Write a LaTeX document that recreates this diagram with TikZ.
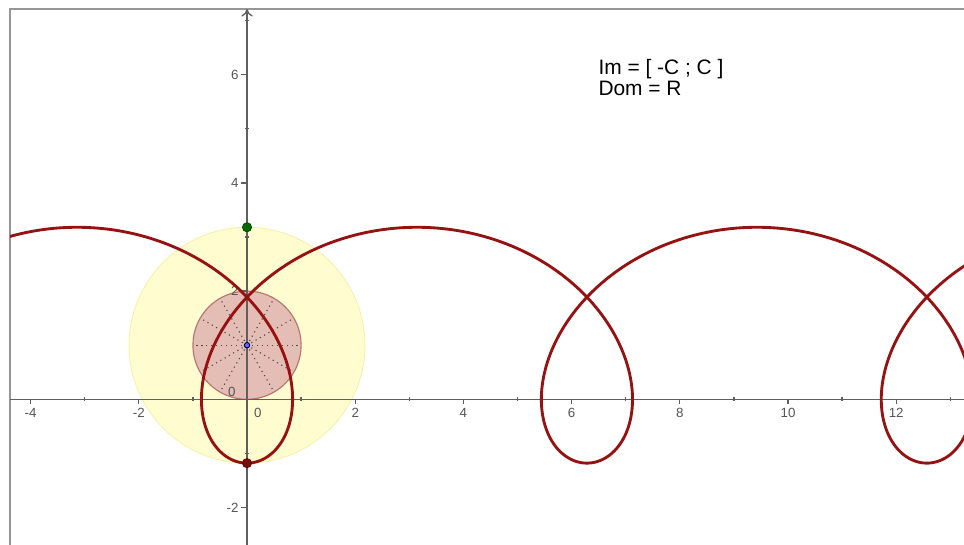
\documentclass[tikz,border=0pt]{standalone}
\usepackage{fontspec}
\setmainfont{Liberation Sans}
\usetikzlibrary{arrows.meta}
\definecolor{curvered}{RGB}{150,18,18}
\definecolor{paleyellow}{RGB}{255,253,208}
\definecolor{rimyellow}{RGB}{245,240,160}
\definecolor{pinkfill}{RGB}{228,190,180}
\definecolor{pinkrim}{RGB}{185,115,115}
\definecolor{axisgray}{RGB}{95,95,95}
\definecolor{framegray}{RGB}{150,150,150}
\definecolor{labelgray}{RGB}{85,85,85}
\tikzset{
  ticklabel/.style={text=labelgray, font=\fontsize{7}{8}\selectfont, inner sep=1pt},
  axisline/.style={draw=axisgray, line width=0.7pt},
  spoke/.style={draw=black!70, dotted, line width=0.6pt},
  infotext/.style={font=\fontsize{11}{12}\selectfont, inner sep=0pt, anchor=base west}
}
\begin{document}
\begin{tikzpicture}
\useasboundingbox (-4.566,-2.693) rectangle (13.253,7.381);
% named points
\coordinate (ctr) at (0,1);
\coordinate (top) at (0,3.18);
\coordinate (bot) at (0,-1.18);
% discs
\filldraw[fill=paleyellow, draw=rimyellow, line width=0.4pt] (ctr) circle [radius=2.18];
\filldraw[fill=pinkfill, draw=pinkrim, line width=0.6pt] (ctr) circle [radius=1];
\foreach \a in {0,30,...,330}
  \draw[spoke] (ctr) -- ++(\a:1);
% frame
\draw[framegray, line width=0.8pt] (-4.381,-2.693) -- (-4.381,7.214) -- (13.253,7.214);
% axes
\draw[axisline] (-4.381,0) -- (13.253,0);
\draw[axisline, -{To[length=4pt, width=6pt]}] (0,-2.693) -- (0,7.214);
\foreach \x in {-4,-2,2,4,6,8,10,12}
  \draw[axisline] (\x,0) -- (\x,-0.09) node[ticklabel, below=1pt] (xl\x) {\x};
\foreach \x in {-3,-1,1,3,5,7,9,11,13}
  \draw[axisline] (\x,0.04) -- (\x,-0.04);
\foreach \y in {-2,2,4,6}
  \draw[axisline] (0,\y) -- (-0.11,\y) node[ticklabel, left=0pt] (yl\y) {\y};
\foreach \y in {-1,1,3,5,7}
  \draw[axisline] (-0.04,\y) -- (0.04,\y);
\node[ticklabel] (xl0) at (0.2,-0.25) {0};
\node[ticklabel] (yl0) at (-0.28,0.14) {0};
% trochoid
\begin{scope}
\clip (-4.381,-2.693) rectangle (13.253,7.214);
\draw[curvered, line width=1.5pt] plot[domain=-7:16, samples=600, smooth, variable=\t]
  ({\t - 2.18*sin(\t r)}, {1 - 2.18*cos(\t r)});
\end{scope}
% points
\filldraw[fill=green!40!black, draw=black!70!green, line width=0.4pt] (top) circle [radius=0.085];
\filldraw[fill=curvered!80!black, draw=black!60!red, line width=0.4pt] (bot) circle [radius=0.085];
\filldraw[fill=blue!60!white, draw=blue!30!black, line width=0.5pt] (ctr) circle [radius=0.05];
% text
\node[infotext] (imtxt) at (6.49,6.0) {Im = [ -C ; C ]};
\node[infotext] (domtxt) at (6.49,5.62) {Dom = R};
\end{tikzpicture}
\end{document}
